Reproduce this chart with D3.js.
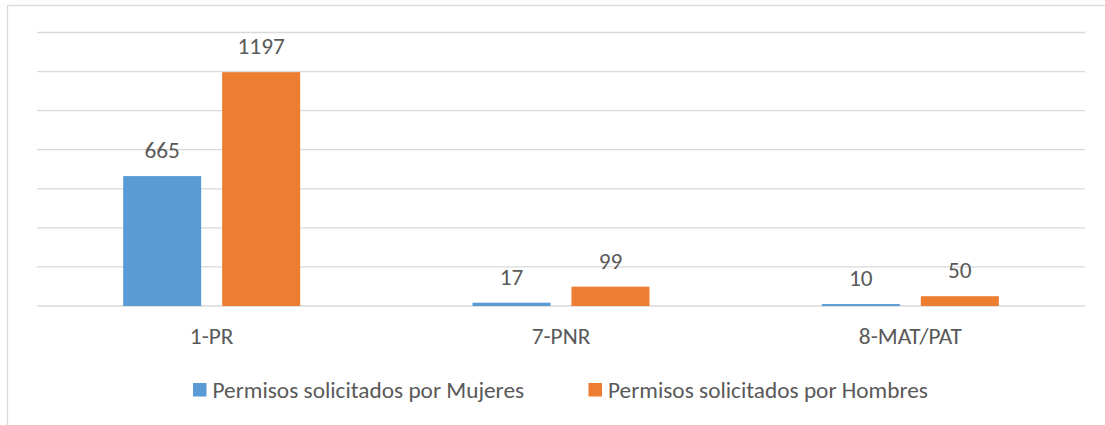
<!DOCTYPE html>
<html>
<head>
<meta charset="utf-8">
<script src="https://cdn.jsdelivr.net/npm/d3@7"></script>
<style>
  html, body { margin: 0; padding: 0; background: #fff; }
  svg { display: block; }
  text { font-family: Carlito, Lato, "Open Sans", sans-serif; fill: #595959; }
</style>
</head>
<body>
<svg id="chart" width="1105" height="425"></svg>
<script>
const categories = ["1-PR", "7-PNR", "8-MAT/PAT"];
const seriesNames = ["Permisos solicitados por Mujeres", "Permisos solicitados por Hombres"];
const mujeres = [665, 17, 10];
const hombres = [1197, 99, 50];
const yTicks = [0, 200, 400, 600, 800, 1000, 1200, 1400];
const colors = ["#5B9BD5", "#ED7D31"];

const svg = d3.select("#chart");
const W = 1105, H = 425;
const FS = 23.3;

// outer chart border
svg.append("rect")
  .attr("x", 7.5).attr("y", 5.5)
  .attr("width", W + 10).attr("height", H + 10)
  .attr("fill", "none").attr("stroke", "#d9d9d9").attr("stroke-width", 1.3);

const plot = { left: 37, right: 1085, top: 32.5, bottom: 306 };

const x = d3.scaleBand().domain(categories).range([plot.left, plot.right]).padding(0);
const y = d3.scaleLinear().domain([0, 1400]).range([plot.bottom, plot.top]);

// gridlines
svg.append("g").selectAll("line").data(yTicks).join("line")
  .attr("x1", plot.left).attr("x2", plot.right)
  .attr("y1", d => y(d)).attr("y2", d => y(d))
  .attr("stroke", "#d9d9d9").attr("stroke-width", 1.3);

const series = [mujeres, hombres];
const bw = x.bandwidth();
const barW = bw * 0.2233;
const gap = bw * 0.06;
const x1 = d3.scaleOrdinal().domain([0, 1]).range([
  bw / 2 - gap / 2 - barW,
  bw / 2 + gap / 2
]);

series.forEach((vals, si) => {
  const g = svg.append("g");
  const data = categories.map((c, i) => ({ c, v: vals[i] }));
  g.selectAll("rect").data(data).join("rect")
    .attr("x", d => x(d.c) + x1(si))
    .attr("y", d => y(d.v))
    .attr("width", barW)
    .attr("height", d => y(0) - y(d.v))
    .attr("fill", colors[si]);
  g.selectAll("text").data(data).join("text")
    .attr("x", d => x(d.c) + x1(si) + barW / 2)
    .attr("y", d => y(d.v) - 18)
    .attr("text-anchor", "middle")
    .attr("font-size", FS)
    .text(d => d.v);
});

// category axis labels
const xAxis = d3.axisBottom(x).tickSize(0).tickPadding(0);
const ax = svg.append("g").attr("transform", `translate(0,${plot.bottom})`).call(xAxis);
ax.select(".domain").remove();
ax.attr("font-family", null).attr("font-size", null);
ax.selectAll("text")
  .attr("dy", null)
  .attr("y", 38)
  .attr("font-size", FS)
  .attr("fill", "#595959");

// legend
const legendItems = [
  { name: seriesNames[0], color: colors[0], x: 193 },
  { name: seriesNames[1], color: colors[1], x: 588.5 }
];
const lg = svg.append("g");
legendItems.forEach(it => {
  lg.append("rect").attr("x", it.x).attr("y", 383).attr("width", 13.5).attr("height", 13.5).attr("fill", it.color);
  lg.append("text").attr("x", it.x + 19.5).attr("y", 397.5).attr("font-size", FS).text(it.name);
});
</script>
</body>
</html>
